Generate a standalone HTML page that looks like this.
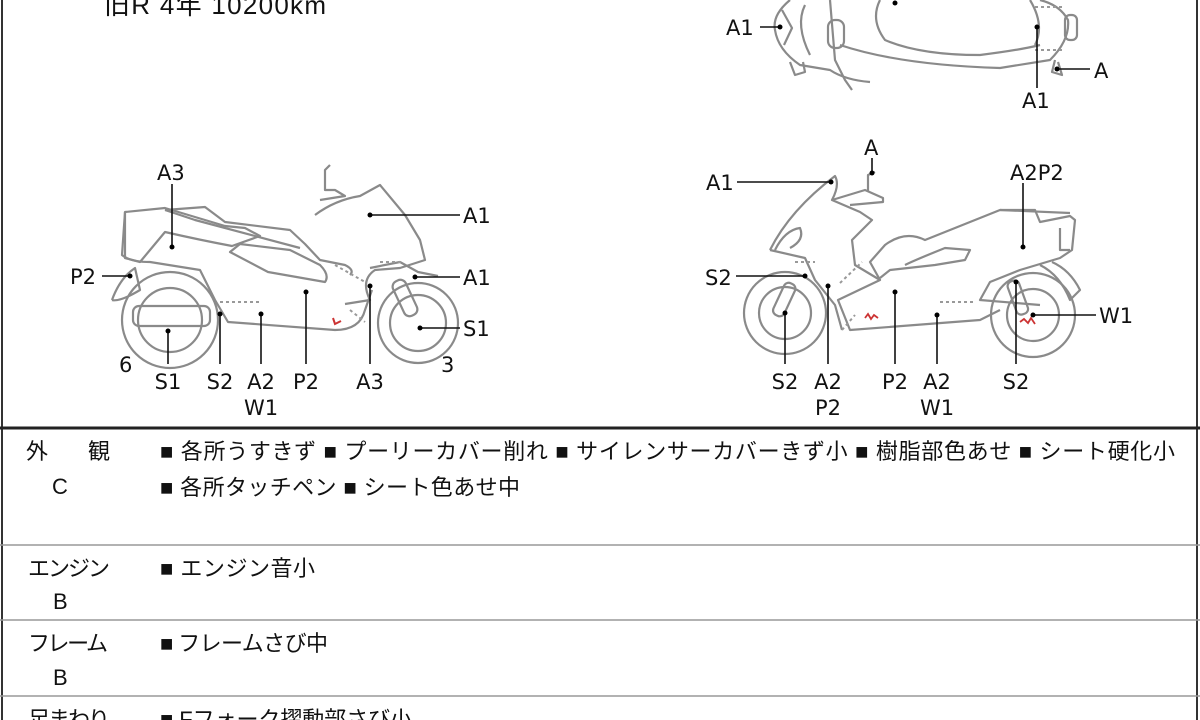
<!DOCTYPE html>
<html><head><meta charset="utf-8"><style>
html,body{margin:0;padding:0;background:#fff;width:1200px;height:720px;overflow:hidden}
svg{display:block}
text{font-family:"Liberation Sans","Noto Sans CJK JP",sans-serif;fill:#111}
.l,.l text{font-size:21px;font-family:"DejaVu Sans","Liberation Sans",sans-serif}
.j{font-size:22px}
.m{fill:none;stroke:#8a8a8a;stroke-width:2.2;stroke-linejoin:round}
.d{fill:none;stroke:#999;stroke-width:2;stroke-dasharray:3 3}
.c{stroke:#111;stroke-width:1.6}
</style></head><body>
<svg width="1200" height="720" viewBox="0 0 1200 720">
<line x1="2" y1="0" x2="2" y2="720" stroke="#333" stroke-width="2"/>
<line x1="1197" y1="0" x2="1197" y2="720" stroke="#333" stroke-width="2"/>
<text x="104" y="14" style="font-size:26px" textLength="222">旧R  4年   10200km</text>

<!-- top right moto (partial) -->
<g class="m">
<path d="M790 0 Q772 15 775 30 Q778 50 800 65 L830 70 Q845 80 870 82"/>
<path d="M782 10 L792 28 L784 45"/>
<path d="M805 5 Q795 25 810 55"/>
<path d="M830 0 L835 60 L845 80 L852 90"/>
<path d="M880 0 Q870 20 885 40 Q920 55 980 55 Q1020 50 1040 45"/>
<path d="M840 45 Q900 65 1000 68 L1050 60 Q1070 40 1068 20 Q1060 5 1040 0"/>
<path d="M1030 0 Q1045 25 1035 45"/>
<rect x="1065" y="15" width="12" height="25" rx="5"/>
<path d="M790 62 L795 75 L805 72 L803 62"/>
<path d="M1055 60 L1052 72 L1062 75 L1058 62"/>
<rect x="828" y="20" width="16" height="28" rx="7"/>
</g>
<line class="d" x1="1035" y1="7" x2="1062" y2="7"/>
<line class="d" x1="1035" y1="50" x2="1062" y2="50"/>
<text class="l" x="726" y="35">A1</text>
<line class="c" x1="760" y1="27" x2="780" y2="27"/><circle cx="780" cy="27" r="2.5"/>
<circle cx="895" cy="3" r="2.5"/>
<line class="c" x1="1037" y1="27" x2="1037" y2="88"/><circle cx="1037" cy="27" r="2.5"/>
<text class="l" x="1022" y="108">A1</text>
<line class="c" x1="1057" y1="69" x2="1090" y2="69"/><circle cx="1057" cy="69" r="2.5"/>
<text class="l" x="1094" y="78">A</text>

<!-- left moto -->
<g class="m">
<circle cx="170" cy="320" r="48"/><circle cx="170" cy="320" r="32"/>
<circle cx="418" cy="323" r="40"/><circle cx="418" cy="323" r="28"/>
<rect x="133" y="306" width="77" height="20" rx="6"/>
<path d="M125 212 L165 208 L225 226 L245 228 L260 236 L232 246 Q200 240 165 232 L150 250 L140 262 L125 258 Z"/>
<path d="M125 212 L122 255 Q130 262 150 262 L200 270 L215 300 L228 322 L335 330 Q360 330 365 310 L372 290"/>
<path d="M165 210 L205 207 L225 222 L290 230 L305 244 L320 260 L345 265 Q355 270 350 275"/>
<path d="M165 210 L195 220 L300 248"/>
<path d="M230 252 L240 244 L290 250 L320 265 Q330 275 325 282 L268 272 Z"/>
<path d="M320 200 L345 196 L335 190 L325 190 L325 170 L330 165"/>
<path d="M315 215 Q335 200 360 196 L380 185 L405 215 L420 240 L425 260 L400 268 L375 270 Q360 280 370 300 L345 304"/>
<path d="M370 268 L400 262 L418 272 L438 276"/>
<rect x="398" y="279" width="14" height="38" rx="6" transform="rotate(-25 405 298)"/>
<path d="M112 300 Q120 278 135 268 L140 290 Q120 302 112 300"/>
</g>
<line class="d" x1="220" y1="302" x2="262" y2="302"/>
<line class="d" x1="335" y1="265" x2="365" y2="282"/>
<line class="d" x1="380" y1="262" x2="403" y2="262"/>
<line class="d" x1="350" y1="310" x2="365" y2="322"/>
<path d="M333 318 l2 6 l6 -3" stroke="#c33" stroke-width="2" fill="none"/>

<text class="l" x="157" y="180">A3</text>
<line class="c" x1="172" y1="184" x2="172" y2="247"/><circle cx="172" cy="247" r="2.5"/>
<text class="l" x="70" y="284">P2</text>
<line class="c" x1="102" y1="276" x2="130" y2="276"/><circle cx="130" cy="276" r="2.5"/>
<text class="l" x="463" y="223">A1</text>
<line class="c" x1="370" y1="215" x2="460" y2="215"/><circle cx="370" cy="215" r="2.5"/>
<text class="l" x="463" y="285">A1</text>
<line class="c" x1="415" y1="277" x2="460" y2="277"/><circle cx="415" cy="277" r="2.5"/>
<text class="l" x="463" y="336">S1</text>
<line class="c" x1="420" y1="328" x2="460" y2="328"/><circle cx="420" cy="328" r="2.5"/>
<text class="l" x="119" y="372">6</text>
<text class="l" x="441" y="372">3</text>
<line class="c" x1="168" y1="331" x2="168" y2="364"/><circle cx="168" cy="331" r="2.5"/>
<line class="c" x1="220" y1="314" x2="220" y2="364"/><circle cx="220" cy="314" r="2.5"/>
<line class="c" x1="261" y1="314" x2="261" y2="364"/><circle cx="261" cy="314" r="2.5"/>
<line class="c" x1="306" y1="292" x2="306" y2="364"/><circle cx="306" cy="292" r="2.5"/>
<line class="c" x1="370" y1="286" x2="370" y2="364"/><circle cx="370" cy="286" r="2.5"/>
<g class="l" text-anchor="middle">
<text x="168" y="389">S1</text><text x="220" y="389">S2</text><text x="261" y="389">A2</text>
<text x="306" y="389">P2</text><text x="370" y="389">A3</text><text x="261" y="415">W1</text>
</g>

<!-- right moto -->
<g class="m">
<circle cx="785" cy="313" r="41"/><circle cx="785" cy="313" r="26"/>
<circle cx="1033" cy="315" r="42"/><circle cx="1033" cy="315" r="26"/>
<path d="M770 250 Q790 210 835 176 Q840 185 832 200 L860 212 L872 220 L852 240 L855 265 L880 280 L838 300 L850 330 L980 320 L1000 310"/>
<path d="M770 250 L805 258 L815 280 L835 305 L842 330"/>
<path d="M775 250 Q785 230 800 228 Q805 240 790 248"/>
<path d="M832 200 L865 190 L883 198 L883 202 L850 205"/>
<path d="M868 192 L868 175 L875 172"/>
<path d="M880 280 L870 262 L885 245 Q905 230 925 240 L955 228 L1000 210 L1035 210 L1040 222 L1070 216 L1075 220 L1072 250 L1060 258 L1020 270 L990 282 L980 300 L1040 305"/>
<path d="M880 278 L890 270 L935 265 L965 260 L970 250 L945 248 Q915 260 905 265"/>
<path d="M1000 210 L1070 213"/>
<path d="M1060 228 L1060 250 L1070 250"/>
<path d="M1040 265 Q1060 275 1070 300 L1080 290 Q1070 270 1052 262"/>
<rect x="778" y="282" width="12" height="35" rx="5" transform="rotate(25 784 300)"/>
<rect x="1012" y="280" width="12" height="35" rx="5" transform="rotate(-20 1018 298)"/>
</g>
<line class="d" x1="795" y1="262" x2="815" y2="262"/>
<line class="d" x1="840" y1="283" x2="862" y2="262"/>
<line class="d" x1="940" y1="302" x2="975" y2="302"/>
<line class="d" x1="842" y1="330" x2="855" y2="315"/>
<path d="M865 318 l3 -4 l3 5 l3 -4 l4 3" stroke="#c33" stroke-width="1.8" fill="none"/>
<path d="M1020 322 l4 -3 l4 4 l3 -5 l4 6" stroke="#c33" stroke-width="1.8" fill="none"/>

<text class="l" x="706" y="190">A1</text>
<line class="c" x1="737" y1="182" x2="831" y2="182"/><circle cx="831" cy="182" r="2.5"/>
<text class="l" x="864" y="155">A</text>
<line class="c" x1="872" y1="158" x2="872" y2="173"/><circle cx="872" cy="173" r="2.5"/>
<text class="l" x="1010" y="180">A2P2</text>
<line class="c" x1="1023" y1="183" x2="1023" y2="247"/><circle cx="1023" cy="247" r="2.5"/>
<text class="l" x="705" y="285">S2</text>
<line class="c" x1="736" y1="276" x2="805" y2="276"/><circle cx="805" cy="276" r="2.5"/>
<text class="l" x="1099" y="323">W1</text>
<line class="c" x1="1033" y1="315" x2="1096" y2="315"/><circle cx="1033" cy="315" r="2.5"/>
<line class="c" x1="785" y1="313" x2="785" y2="364"/><circle cx="785" cy="313" r="2.5"/>
<line class="c" x1="828" y1="286" x2="828" y2="364"/><circle cx="828" cy="286" r="2.5"/>
<line class="c" x1="895" y1="292" x2="895" y2="364"/><circle cx="895" cy="292" r="2.5"/>
<line class="c" x1="937" y1="315" x2="937" y2="364"/><circle cx="937" cy="315" r="2.5"/>
<line class="c" x1="1016" y1="282" x2="1016" y2="364"/><circle cx="1016" cy="282" r="2.5"/>
<g class="l" text-anchor="middle">
<text x="785" y="389">S2</text><text x="828" y="389">A2</text><text x="895" y="389">P2</text>
<text x="937" y="389">A2</text><text x="1016" y="389">S2</text>
<text x="828" y="415">P2</text><text x="937" y="415">W1</text>
</g>

<!-- table -->
<line x1="0" y1="428" x2="1200" y2="428" stroke="#222" stroke-width="3"/>
<line x1="0" y1="545" x2="1200" y2="545" stroke="#999" stroke-width="1.5"/>
<line x1="0" y1="620" x2="1200" y2="620" stroke="#999" stroke-width="1.5"/>
<line x1="0" y1="696" x2="1200" y2="696" stroke="#999" stroke-width="1.5"/>
<g class="j">
<text x="26" y="459">外</text><text x="88" y="459">観</text>
<text x="52" y="494">C</text>
<text x="160" y="459" textLength="1015" lengthAdjust="spacing">■ 各所うすきず ■ プーリーカバー削れ ■ サイレンサーカバーきず小 ■ 樹脂部色あせ ■ シート硬化小</text>
<text x="160" y="495" textLength="360" lengthAdjust="spacing">■ 各所タッチペン ■ シート色あせ中</text>
<text x="28" y="576" textLength="82">エンジン</text><text x="53" y="609">B</text>
<text x="160" y="576" textLength="155">■ エンジン音小</text>
<text x="28" y="651" textLength="80">フレーム</text><text x="53" y="685">B</text>
<text x="160" y="651" textLength="168">■ フレームさび中</text>
<text x="28" y="727" textLength="82">足まわり</text>
<text x="160" y="727" textLength="252">■ Fフォーク摺動部さび小</text>
</g>
</svg>
</body></html>
